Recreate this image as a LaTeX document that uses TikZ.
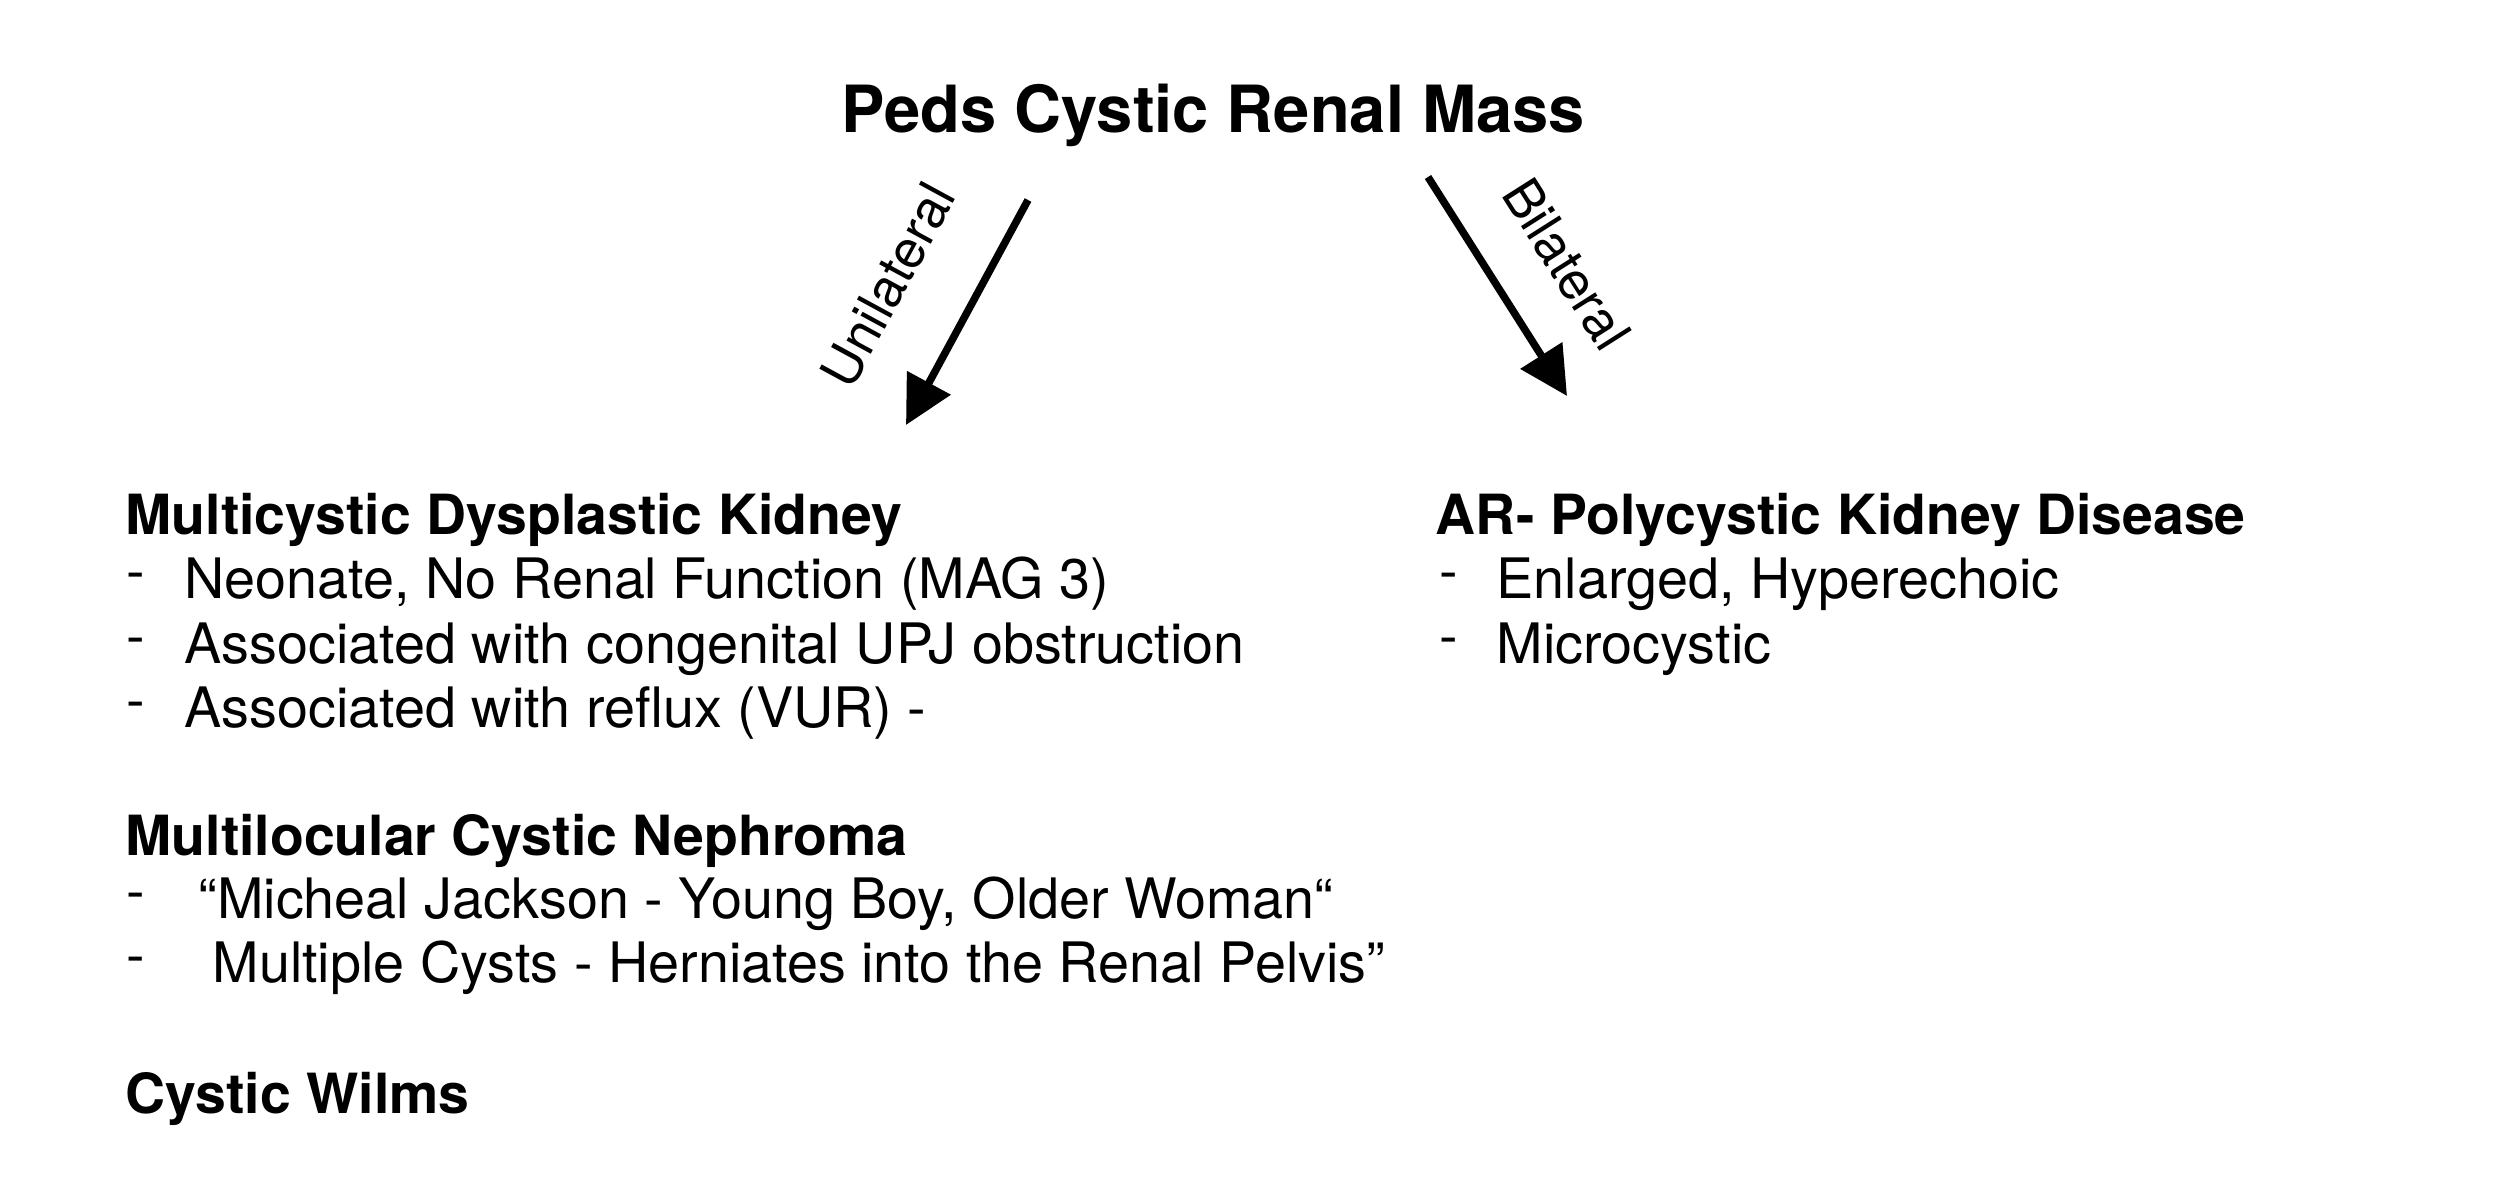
\documentclass[tikz,border=0pt]{standalone}
\usepackage{fontspec}
\setmainfont{TeX Gyre Heros}
\usetikzlibrary{arrows.meta}
\begin{document}
\begin{tikzpicture}[x=0.01cm,y=-0.01cm,
  titletxt/.style={anchor=base west, inner sep=0, font=\fontsize{18.5pt}{22pt}\selectfont\bfseries},
  headtxt/.style={anchor=base west, inner sep=0, font=\fontsize{15.75pt}{19pt}\selectfont\bfseries},
  bodytxt/.style={anchor=base west, inner sep=0, font=\fontsize{15.85pt}{19pt}\selectfont},
  dashtxt/.style={anchor=base west, inner sep=0, font=\fontsize{15.85pt}{19pt}\selectfont},
  arrlabel/.style={inner sep=0, font=\fontsize{15pt}{18pt}\selectfont},
  branch/.style={line width=0.075cm, -{Triangle[length=0.48cm,width=0.48cm]}}]
\useasboundingbox[fill=white] (0,0) rectangle (2516,1200);

% title
\node[titletxt] (title) at (841,132) {Peds Cystic Renal Mass};

% arrows
\coordinate (us) at (1028,200);
\coordinate (ue) at (906,425);
\coordinate (bs) at (1428,177);
\coordinate (be) at (1567,396);
\draw[branch] (us) -- (ue);
\draw[branch] (bs) -- (be);
\node[arrlabel, rotate=61.5] (ulab) at (888,285) {Unilateral};
\node[arrlabel, rotate=-57.6] (blab) at (1567,264) {Bilateral};

% left column
\node[headtxt] (mcdk) at (125,534) {Multicystic Dysplastic Kidney};
\node[dashtxt] (d1) at (126,598) {\raisebox{2pt}{-}};
\node[bodytxt] (l1) at (184,598) {Neonate, No Renal Function (MAG 3)};
\node[dashtxt] (d2) at (126,663) {\raisebox{2pt}{-}};
\node[bodytxt] (l2) at (184,663) {Associated with congenital UPJ obstruction};
\node[dashtxt] (d3) at (126,727) {\raisebox{2pt}{-}};
\node[bodytxt] (l3) at (184,727) {Associated with reflux (VUR) -};

\node[headtxt] (mlcn) at (125,855) {Multilocular Cystic Nephroma};
\node[dashtxt] (d4) at (126,918) {\raisebox{2pt}{-}};
\node[bodytxt] (l4) at (198,918) {“Micheal Jackson - Young Boy, Older Woman“};
\node[dashtxt] (d5) at (126,982) {\raisebox{2pt}{-}};
\node[bodytxt] (l5) at (212,982) {Multiple Cysts - Herniates into the Renal Pelvis”};

\node[headtxt] (cw) at (125,1113) {Cystic Wilms};

% right column
\node[headtxt] (arpkd) at (1435,534) {AR- Polycystic Kidney Disease};
\node[dashtxt] (d6) at (1439,598) {\raisebox{2pt}{-}};
\node[bodytxt] (r1) at (1496,598) {Enlarged, Hyperechoic};
\node[dashtxt] (d7) at (1439,663) {\raisebox{2pt}{-}};
\node[bodytxt] (r2) at (1496,663) {Microcystic};
\end{tikzpicture}
\end{document}
